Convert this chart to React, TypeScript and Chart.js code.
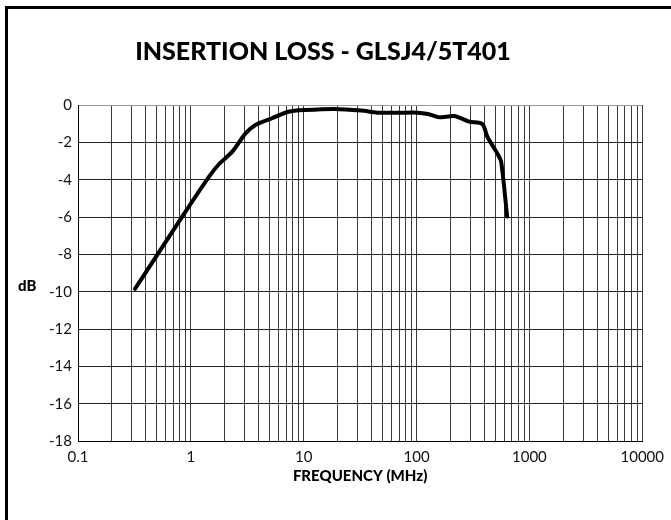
import React, { useEffect, useRef } from "react";
import { Chart, registerables } from "chart.js";

Chart.register(...registerables);

const TITLE = "INSERTION LOSS - GLSJ4/5T401";
const X_TITLE = "FREQUENCY (MHz)";
const Y_TITLE = "dB";

// Insertion loss curve (frequency in MHz, loss in dB)
const FREQ_MHZ = [0.32, 0.56, 0.9, 1.45, 1.78, 2.33, 3.05, 3.74, 5.24, 7.35, 10.3, 18.9, 32.4, 45, 68, 102, 126, 159, 216, 292, 383, 424, 519, 562, 635];
const LOSS_DB = [-9.85, -7.6, -5.7, -3.84, -3.16, -2.5, -1.52, -1.07, -0.71, -0.36, -0.27, -0.21, -0.3, -0.41, -0.42, -0.41, -0.48, -0.66, -0.59, -0.89, -1.02, -1.7, -2.59, -3.04, -5.98];

// Axis ticks
const X_LABEL_VALUES = [0.1, 1, 10, 100, 1000, 10000];
const X_LABELS = ["0.1", "1", "10", "100", "1000", "10000"];
const DECADE_STARTS = [0.1, 1, 10, 100, 1000];
const MULTIPLIERS = [1, 2, 3, 4, 5, 6, 7, 8, 9];
const Y_MIN = -18;
const Y_MAX = 0;
const Y_STEP = 2;

export default function App() {
  const ref = useRef<HTMLCanvasElement | null>(null);

  useEffect(() => {
    if (!ref.current) return;
    const gridValues: number[] = [];
    DECADE_STARTS.forEach((d) => MULTIPLIERS.forEach((m) => gridValues.push(d * m)));
    gridValues.push(10000);

    const chart = new Chart(ref.current, {
      type: "scatter",
      data: {
        datasets: [
          {
            data: FREQ_MHZ.map((f, i) => ({ x: f, y: LOSS_DB[i] })),
            showLine: true,
            borderColor: "#000",
            borderWidth: 4,
            pointRadius: 0,
            tension: 0.25,
            borderCapStyle: "round",
            borderJoinStyle: "round",
          },
        ],
      },
      options: {
        animation: false,
        responsive: false,
        devicePixelRatio: 1,
        layout: { padding: { left: 0, right: 25, top: 0, bottom: 0 } },
        plugins: {
          legend: { display: false },
          tooltip: { enabled: false },
          title: {
            display: true,
            text: TITLE,
            color: "#000",
            font: { family: "Lato", size: 25, weight: "900" },
            lineHeight: 1.2,
            padding: { top: 37, bottom: 38 },
          },
        },
        scales: {
          x: {
            type: "logarithmic",
            min: 0.1,
            max: 10000,
            afterBuildTicks: (scale: any) => {
              scale.ticks = gridValues.map((v) => ({ value: v }));
            },
            afterFit: (scale: any) => {
              scale.height = 79;
            },
            ticks: {
              autoSkip: false,
              maxRotation: 0,
              padding: 7,
              color: "#111",
              font: { family: "Lato", size: 15 },
              callback: (value: any) => {
                const v = Number(value);
                const idx = X_LABEL_VALUES.findIndex((t) => Math.abs(t - v) / t < 1e-6);
                return idx >= 0 ? X_LABELS[idx] : "";
              },
            },
            grid: { color: "#3a3a3a", lineWidth: 1, drawTicks: false },
            border: { color: "#000", width: 1 },
            title: {
              display: true,
              text: X_TITLE,
              color: "#000",
              font: { family: "Lato", size: 15, weight: "900" },
              padding: { top: 0, bottom: 35 },
            },
          },
          y: {
            min: Y_MIN,
            max: Y_MAX,
            afterFit: (scale: any) => {
              scale.width = 78;
            },
            ticks: {
              stepSize: Y_STEP,
              padding: 6,
              color: "#111",
              font: { family: "Lato", size: 15 },
            },
            grid: {
              color: (ctx: any) => (ctx.tick && ctx.tick.value === 0 ? "#999" : "#222"),
              lineWidth: 1,
              drawTicks: false,
            },
            border: { color: "#000", width: 1 },
          },
        },
      },
    });
    return () => chart.destroy();
  }, []);

  return (
    <div style={{ position: "fixed", left: 0, top: 0, width: 671, height: 520, background: "#fff", overflow: "hidden" }}>
      <canvas ref={ref} width={671} height={520} style={{ display: "block", position: "absolute", left: 0, top: 0 }} />
      <div
        style={{
          position: "absolute",
          left: 5,
          top: 6,
          width: 666,
          height: 514,
          borderLeft: "3px solid #000",
          borderTop: "3px solid #000",
          boxSizing: "border-box",
          pointerEvents: "none",
        }}
      />
      <span
        style={{
          position: "absolute",
          left: 18,
          top: 276,
          fontFamily: "Lato",
          fontWeight: 900,
          fontSize: 15,
          lineHeight: "18px",
          color: "#000",
        }}
      >
        {Y_TITLE}
      </span>
    </div>
  );
}
